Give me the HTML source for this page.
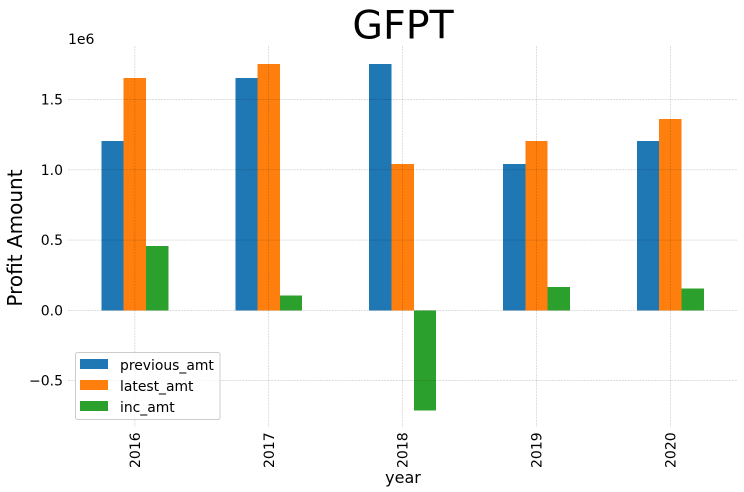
<!DOCTYPE html>
<html>
<head>
<meta charset="utf-8">
<style>
html,body{margin:0;padding:0;background:#fff;width:744px;height:492px;overflow:hidden}
svg{display:block;font-family:"DejaVu Sans","Liberation Sans",sans-serif}
</style>
</head>
<body>
<svg id="chart" width="744" height="492" viewBox="0 0 744 492" xmlns="http://www.w3.org/2000/svg">
  <g id="bars"></g>
  <g id="grid"></g>
  <g id="ticks"></g>
  <text x="403" y="38.5" font-size="39.5" text-anchor="middle" fill="#000">GFPT</text>
  <text x="68" y="44" font-size="14" fill="#000">1e6</text>
  <text transform="translate(22,238) rotate(-90)" font-size="20" text-anchor="middle" fill="#000">Profit Amount</text>
  <text x="403" y="483" font-size="16" text-anchor="middle" fill="#000">year</text>
  <g id="legend">
    <rect x="75.5" y="352.5" width="144.5" height="67" rx="2" fill="#fff" fill-opacity="0.8" stroke="#cccccc" stroke-width="1"></rect>
  </g>
</svg>
<script>
const categories = ["2016", "2017", "2018", "2019", "2020"];
const previousAmt = [1205000, 1653000, 1753000, 1040000, 1205000];
const latestAmt = [1653000, 1753000, 1040000, 1205000, 1360000];
const incAmt = [457000, 105000, -713000, 165000, 155000];
const yTicks = [-500000, 0, 500000, 1000000, 1500000];
const yTickLabels = ["\u22120.5", "0.0", "0.5", "1.0", "1.5"];
const seriesNames = ["previous_amt", "latest_amt", "inc_amt"];
const seriesValues = [previousAmt, latestAmt, incAmt];
const seriesColors = ["#1f77b4", "#ff7f0e", "#2ca02c"];

const NS = "http://www.w3.org/2000/svg";
const plotLeft = 68;
const plotRight = 737;
const plotTop = 46;
const plotBottom = 427;
const groupStep = 133.85;
const firstGroup = 134.9;
const barWidth = groupStep * 0.5 / 3;

function xScale(i) { return firstGroup + i * groupStep; }
function yScale(v) { return 310.3 - v * 140.5 / 1000000; }

function make(tag, attrs, parent) {
  const el = document.createElementNS(NS, tag);
  for (const k in attrs) el.setAttribute(k, attrs[k]);
  parent.appendChild(el);
  return el;
}

const barsGroup = document.getElementById("bars");
const gridGroup = document.getElementById("grid");
const ticksGroup = document.getElementById("ticks");
const legendGroup = document.getElementById("legend");

seriesValues.forEach(function (values, s) {
  values.forEach(function (v, i) {
    const x = xScale(i) + (s - 1.5) * barWidth;
    const y0 = yScale(0);
    const y1 = yScale(v);
    const bar = make("rect", {
      x: x,
      y: Math.min(y0, y1),
      width: barWidth,
      height: Math.abs(y1 - y0),
      fill: seriesColors[s],
      "shape-rendering": "crispEdges"
    }, barsGroup);
    
    
  });
});

yTicks.forEach(function (t, i) {
  const y = yScale(t);
  const line = make("line", {
    x1: plotLeft,
    x2: plotRight,
    y1: y,
    y2: y,
    stroke: "#000",
    "stroke-opacity": 0.22,
    "stroke-width": 0.6,
    "stroke-dasharray": "2 0.9"
  }, gridGroup);
  
  
  const label = make("text", {
    x: 63,
    y: y + 5,
    "font-size": 14,
    "text-anchor": "end",
    fill: "#000"
  }, ticksGroup);
  label.textContent = yTickLabels[i];
  
  
});

categories.forEach(function (c, i) {
  const x = xScale(i);
  const line = make("line", {
    x1: x,
    x2: x,
    y1: plotTop,
    y2: plotBottom,
    stroke: "#000",
    "stroke-opacity": 0.22,
    "stroke-width": 0.6,
    "stroke-dasharray": "2 0.9"
  }, gridGroup);
  
  
  const label = make("text", {
    transform: "translate(" + (x + 5) + ",468) rotate(-90)",
    "font-size": 14,
    fill: "#000"
  }, ticksGroup);
  label.textContent = c;
  
  
});

seriesNames.forEach(function (name, s) {
  const rowY = 359 + s * 21;
  const swatch = make("rect", {
    x: 80,
    y: rowY,
    width: 28,
    height: 10,
    fill: seriesColors[s]
  }, legendGroup);
  
  
  const label = make("text", {
    x: 120,
    y: rowY + 11,
    "font-size": 13.9,
    fill: "#000"
  }, legendGroup);
  label.textContent = name;
  
  
});
</script>
</body>
</html>
